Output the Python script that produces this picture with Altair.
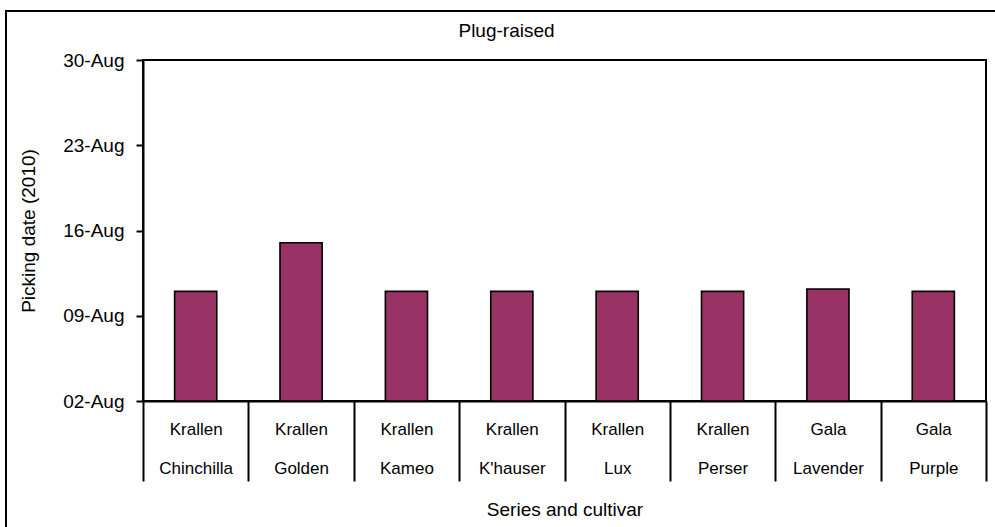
import altair as alt
import pandas as pd

# Data
series = ["Krallen", "Krallen", "Krallen", "Krallen", "Krallen", "Krallen", "Gala", "Gala"]
cultivars = ["Chinchilla", "Golden", "Kameo", "K'hauser", "Lux", "Perser", "Lavender", "Purple"]
# picking date, as day of August 2010
picking_day = [11, 15, 11, 11, 11, 11, 11.2, 11]
y_tick_days = [2, 9, 16, 23, 30]
y_domain = [2, 30]

FONT = "Liberation Sans"

df = pd.DataFrame({
    "category": [f"{s}|{c}" for s, c in zip(series, cultivars)],
    "day": picking_day,
})

bars = alt.Chart(df).mark_bar(
    color="#993366", stroke="black", strokeWidth=1.6,
    width=alt.RelativeBandSize(0.4),
).encode(
    x=alt.X(
        "category:N", sort=None,
        scale=alt.Scale(paddingInner=0, paddingOuter=0),
        axis=alt.Axis(
            title="Series and cultivar",
            labelExpr="split(datum.label, '|')",
            labelAngle=0,
            labelOverlap=False,
            tickBand="extent",
            tickSize=80, tickWidth=2, tickColor="black",
            domainColor="black", domainWidth=2,
            labelPadding=-60, labelLineHeight=39,
            labelFont=FONT, labelFontSize=17, labelColor="black",
            titleFont=FONT, titleFontSize=19, titleFontWeight="normal",
            titleColor="black", titleBaseline="alphabetic", titleY=114,
        ),
    ),
    y=alt.Y(
        "day:Q",
        scale=alt.Scale(domain=y_domain, nice=False, zero=False),
        axis=alt.Axis(
            values=y_tick_days,
            labelExpr="(datum.value < 10 ? '0' : '') + datum.value + '-Aug'",
            title="Picking date (2010)",
            grid=False,
            tickSize=7, tickWidth=2, tickColor="black",
            domainColor="black", domainWidth=2,
            labelPadding=12,
            labelFont=FONT, labelFontSize=19, labelColor="black",
            titleFont=FONT, titleFontSize=19, titleFontWeight="normal",
            titleColor="black", titleBaseline="alphabetic",
            titleX=-109, titleY=170.5,
        ),
    ),
    y2=alt.datum(2),
)

frame = alt.Chart(pd.DataFrame({"a": [0]})).mark_rect(
    fillOpacity=0, stroke="black", strokeWidth=2
).encode(
    x=alt.value(-137), x2=alt.value(900),
    y=alt.value(-49), y2=alt.value(500),
)

chart = alt.layer(bars, frame).properties(
    width=843, height=341,
    autosize=alt.AutoSizeParams(type="none"),
    padding={"left": 143, "top": 60, "right": 9, "bottom": 126},
    title=alt.TitleParams(
        "Plug-raised", font=FONT, fontSize=19, fontWeight="normal",
        color="black", anchor="middle", frame="group",
        baseline="alphabetic", offset=-19, dx=-58, dy=27,
    ),
    background="white",
).configure_view(stroke="black", strokeWidth=2)

chart.save("out.html", embed_options={"renderer": "svg", "actions": False})
